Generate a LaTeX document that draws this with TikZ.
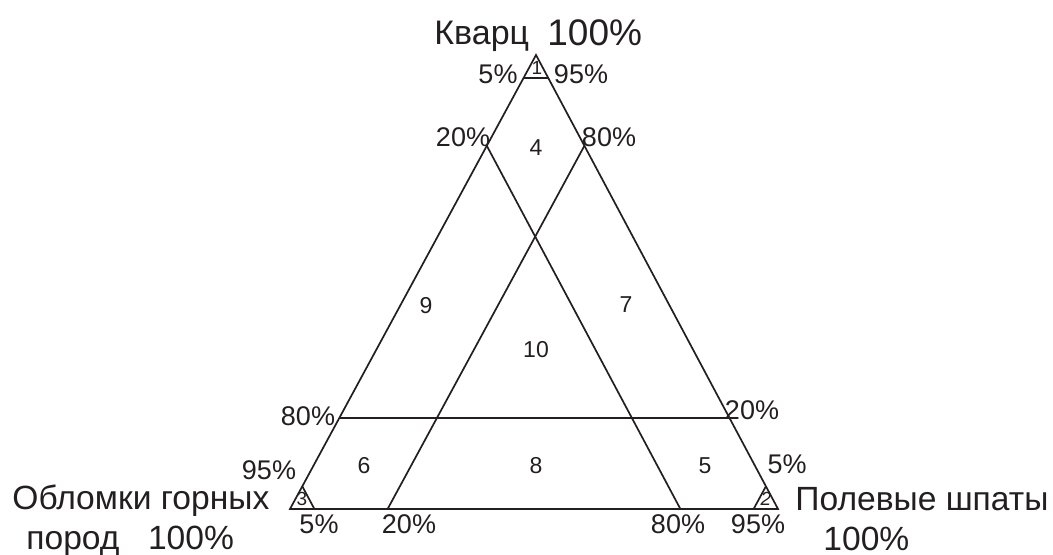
\documentclass[tikz,border=0pt]{standalone}
\usepackage{fontspec}
\setmainfont{Liberation Sans}
\usetikzlibrary{calc}
\definecolor{ink}{HTML}{231F20}

\begin{document}
\begin{tikzpicture}[x=0.5pt, y=-0.5pt,
    ln/.style={draw=ink, line width=0.85pt, line join=miter},
    pct/.style={font=\fontsize{13.5}{15}\selectfont, text=ink, inner sep=0pt},
    reg/.style={font=\fontsize{11.5}{13}\selectfont, text=ink, inner sep=0pt},
    tiny/.style={font=\fontsize{9.5}{10}\selectfont, text=ink, inner sep=0pt},
    ttl/.style={font=\fontsize{16.8}{19}\selectfont, text=ink, inner sep=0pt, anchor=base west},
  ]
    \useasboundingbox (0,0) rectangle (1053,555);

    % vertices: quartz, rock fragments, feldspars
    \coordinate (Q) at (536,55);
    \coordinate (R) at (290,509);
    \coordinate (F) at (778,509);

    % outer triangle and the 20/80 lines
    \draw[ln] (Q) -- (R) -- (F) -- cycle;
    \draw[ln] ($(Q)!0.2!(R)$) -- ($(R)!0.8!(F)$);
    \draw[ln] ($(Q)!0.2!(F)$) -- ($(R)!0.2!(F)$);
    \draw[ln] ($(Q)!0.8!(R)$) -- ($(Q)!0.8!(F)$);

    % 5% corner triangles
    \draw[ln] ($(Q)!0.05!(R)$) -- ($(Q)!0.05!(F)$);
    \draw[ln] ($(R)!0.05!(Q)$) -- ($(R)!0.05!(F)$);
    \draw[ln] ($(F)!0.05!(Q)$) -- ($(F)!0.05!(R)$);
    \node[tiny] (n1) at (537,68) {1};
    \node[tiny] (n3) at (302,499) {3};
    \node[tiny, font=\fontsize{9.5}{10}\selectfont\itshape] (n2) at (766,499) {2};

    % corner labels
    \node[ttl, font=\fontsize{17}{19}\selectfont] (tQa) at (434,45) {Кварц};
    \node[ttl, font=\fontsize{18.5}{21}\selectfont] (tQb) at (547,46) {100\%};
    \node[ttl] (tRa) at (12,509) {Обломки горных};
    \node[ttl] (tRb) at (26,549) {пород\hspace{0.85em}100\%};
    \node[ttl] (tFa) at (795,510) {Полевые шпаты};
    \node[ttl] (tFb) at (823,550) {100\%};

    % percent marks
    \node[pct] (p1) at (498,74) {5\%};
    \node[pct] (p2) at (581,74) {95\%};
    \node[pct] (p3) at (463,137) {20\%};
    \node[pct] (p4) at (609,137) {80\%};
    \node[pct] (p5) at (308,416) {80\%};
    \node[pct] (p6) at (752,410) {20\%};
    \node[pct] (p7) at (269,470) {95\%};
    \node[pct] (p8) at (787,464) {5\%};
    \node[pct] (p9) at (319,524) {5\%};
    \node[pct] (p10) at (409,524) {20\%};
    \node[pct] (p11) at (678,524) {80\%};
    \node[pct] (p12) at (758,524) {95\%};

    % field numbers
    \node[reg] (f4) at (536,148) {4};
    \node[reg] (f9) at (426,306) {9};
    \node[reg] (f7) at (626,305) {7};
    \node[reg] (f10) at (536,350) {10};
    \node[reg] (f6) at (364,466) {6};
    \node[reg] (f8) at (536,466) {8};
    \node[reg] (f5) at (705,466) {5};
  \end{tikzpicture}
\end{document}
